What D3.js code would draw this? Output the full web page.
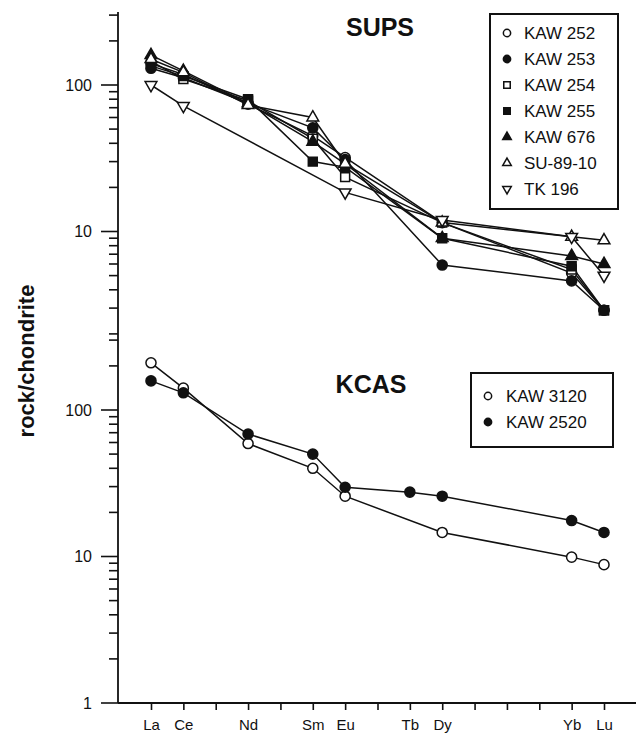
<!DOCTYPE html>
<html lang="en">
  <head>
    <meta charset="utf-8">
    <title>REE plot</title>
    <script src="https://cdn.jsdelivr.net/npm/d3@7/dist/d3.min.js"></script>
    <style type="text/css">
      body { margin: 0; background: #fff; }
      text { font-family: "Liberation Sans", Arial, Helvetica, sans-serif; fill: #111; }
      .line { fill: none; stroke: #111; stroke-width: 1.5; }
      .title { font-size: 25px; font-weight: bold; }
      .legendText { font-size: 17px; }
      .tickLabel { font-size: 16px; }
    </style>
  </head>
  <body>
    <svg id="chart" width="639" height="733"></svg>
    <script type="text/javascript">
      // rare earth elements along the x axis
      var ree = ["La", "Ce", "Pr", "Nd", "Pm", "Sm", "Eu", "Gd", "Tb", "Dy", "Ho", "Er", "Tm", "Yb", "Lu"];
      var reeLabels = ["La", "Ce", "Nd", "Sm", "Eu", "Tb", "Dy", "Yb", "Lu"];

      // SUPS samples (rock/chondrite)
      var supsElements = ["La", "Ce", "Nd", "Sm", "Eu", "Dy", "Yb", "Lu"];
      var kaw252 = [140, 118, 74, 45, 32, 11.5, 5.2, 2.9];
      var kaw253 = [130, 112, 75, 51, 31, 5.9, 4.6, 2.9];
      var kaw254 = [145, 110, 78, 43, 23.5, 11.5, 5.5, 2.9];
      var kaw255 = [135, 115, 80, 30, 27.5, 9, 5.8, 2.9];
      var kaw676 = [160, 125, 75, 41, 29, 9, 6.8, 6.0];
      var su8910 = [150, 122, 73, 60, 29, 11.5, 9.2, 8.7];
      var tk196 = [100, 72, null, null, 18.5, 12, 9.2, 5.0];

      // KCAS samples
      var kcasElements = ["La", "Ce", "Nd", "Sm", "Eu", "Tb", "Dy", "Yb", "Lu"];
      var kaw3120 = [210, 141, 59, 40, 25.8, null, 14.6, 9.9, 8.8];
      var kaw2520 = [158, 131, 68.5, 50, 29.7, 27.5, 25.8, 17.6, 14.6];

      var supsTicks = [10, 100];
      var kcasTicks = [1, 10, 100];

      var supsSeries = [
        {name: "KAW 252", values: kaw252, symbol: "circle", filled: false},
        {name: "KAW 253", values: kaw253, symbol: "circle", filled: true},
        {name: "KAW 254", values: kaw254, symbol: "square", filled: false},
        {name: "KAW 255", values: kaw255, symbol: "square", filled: true},
        {name: "KAW 676", values: kaw676, symbol: "triangle", filled: true},
        {name: "SU-89-10", values: su8910, symbol: "triangle", filled: false},
        {name: "TK 196", values: tk196, symbol: "down", filled: false}
      ];
      var kcasSeries = [
        {name: "KAW 3120", values: kaw3120, symbol: "circle", filled: false},
        {name: "KAW 2520", values: kaw2520, symbol: "circle", filled: true}
      ];

      var svg = d3.select("#chart");
      var axisX = 118, axisBottom = 703;
      var decade = 146.5;
      var ink = "#111";

      var x = d3.scalePoint().domain(ree).range([151, 604]);
      // two log scales with the same decade height, the SUPS one shifted upward
      var yTop = d3.scaleLog().domain([2, 300])
        .range([85 + decade * Math.log10(100 / 2), 85 - decade * Math.log10(3)]);
      var yBot = d3.scaleLog().domain([1, 300])
        .range([axisBottom, axisBottom - decade * Math.log10(300)]);

      function minorTicks(lo, hi) {
        var out = [];
        for (var p = 0; p < 4; p++) {
          for (var m = 2; m <= 9; m++) {
            var v = m * Math.pow(10, p);
            if (v >= lo && v <= hi) out.push(v);
          }
        }
        return out;
      }

      // y axis line
      svg.append("line")
        .attr("x1", axisX).attr("x2", axisX)
        .attr("y1", 12).attr("y2", axisBottom)
        .attr("stroke", ink).attr("stroke-width", 1.8);

      function drawY(scale, majors, lo, hi) {
        var g = svg.append("g");
        g.selectAll(".minor")
          .data(minorTicks(lo, hi))
          .enter().append("line")
            .attr("x1", axisX - 9).attr("x2", axisX)
            .attr("y1", function(d) { return scale(d); })
            .attr("y2", function(d) { return scale(d); })
            .attr("stroke", ink).attr("stroke-width", 1.6);
        g.selectAll(".major")
          .data(majors)
          .enter().append("line")
            .attr("x1", axisX - 17).attr("x2", axisX)
            .attr("y1", function(d) { return scale(d); })
            .attr("y2", function(d) { return scale(d); })
            .attr("stroke", ink).attr("stroke-width", 1.6);
        g.selectAll(".lbl")
          .data(majors)
          .enter().append("text")
            .attr("class", "tickLabel")
            .attr("x", axisX - 26)
            .attr("y", function(d) { return scale(d); })
            .attr("dy", "0.36em")
            .attr("text-anchor", "end")
            .text(function(d) { return d3.format("d")(d); });
      }
      drawY(yTop, supsTicks, 2, 300);
      drawY(yBot, kcasTicks, 1, 300);

      // x axis
      svg.append("line")
        .attr("x1", axisX).attr("x2", 636)
        .attr("y1", axisBottom).attr("y2", axisBottom)
        .attr("stroke", ink).attr("stroke-width", 1.8);
      svg.append("g")
        .attr("transform", "translate(0," + axisBottom + ")")
        .call(d3.axisBottom(x).tickSize(7).tickSizeOuter(0).tickPadding(9)
          .tickFormat(function(d) { return reeLabels.indexOf(d) >= 0 ? d : ""; }))
        .call(function(g) {
          g.select(".domain").remove();
          g.selectAll("line").attr("stroke", ink).attr("stroke-width", 1.6);
          g.selectAll("text").style("font-size", "15px").attr("fill", ink);
        });

      svg.append("text")
        .attr("transform", "translate(34,361) rotate(-90)")
        .attr("text-anchor", "middle")
        .style("font-size", "22px").style("font-weight", "bold")
        .text("rock/chondrite");

      function symbolPath(kind, size) {
        if (kind == "circle") return d3.symbol().type(d3.symbolCircle).size(size)();
        if (kind == "square") return d3.symbol().type(d3.symbolSquare).size(size)();
        return d3.symbol().type(d3.symbolTriangle).size(size * 0.75)();
      }

      function drawMarker(g, s, px, py, size) {
        g.append("path")
          .attr("d", symbolPath(s.symbol, size))
          .attr("transform", "translate(" + px + "," + py + ")" + (s.symbol == "down" ? " rotate(180)" : ""))
          .attr("fill", s.filled ? ink : "#fff")
          .attr("stroke", ink)
          .attr("stroke-width", 1.5);
      }

      function drawPanel(series, elements, y) {
        var g = svg.append("g");
        var line = d3.line()
          .x(function(d) { return x(d.el); })
          .y(function(d) { return y(d.v); });
        series.forEach(function(s) {
          var pts = [];
          s.values.forEach(function(v, i) {
            if (v != null) pts.push({el: elements[i], v: v});
          });
          g.append("path").datum(pts).attr("class", "line").attr("d", line);
          s.pts = pts;
        });
        series.forEach(function(s) {
          s.pts.forEach(function(d) { drawMarker(g, s, x(d.el), y(d.v), 80); });
        });
      }
      drawPanel(supsSeries, supsElements, yTop);
      drawPanel(kcasSeries, kcasElements, yBot);

      svg.append("text").attr("class", "title")
        .attr("x", 380).attr("y", 36).attr("text-anchor", "middle").text("SUPS");
      svg.append("text").attr("class", "title")
        .attr("x", 371).attr("y", 393).attr("text-anchor", "middle").text("KCAS");

      function drawLegend(series, bx, by, bw, bh, symX, textX, firstY) {
        var g = svg.append("g");
        g.append("rect")
          .attr("x", bx).attr("y", by).attr("width", bw).attr("height", bh)
          .attr("fill", "#fff").attr("stroke", ink).attr("stroke-width", 2);
        series.forEach(function(s, i) {
          var cy = firstY + i * 26;
          drawMarker(g, s, symX, cy, 42);
          g.append("text").attr("class", "legendText")
            .attr("x", textX).attr("y", cy + 6).text(s.name);
        });
      }
      drawLegend(supsSeries, 490, 14, 128, 195, 507, 524, 33);
      drawLegend(kcasSeries, 471, 373, 142, 74, 488, 506, 396);
    </script>
  </body>
</html>
